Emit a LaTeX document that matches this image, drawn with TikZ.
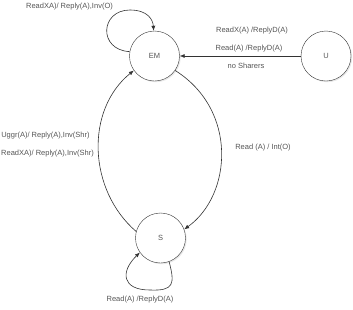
\documentclass[tikz,border=0pt]{standalone}
\usepackage{fontspec}
\setmainfont{Liberation Sans}
\usetikzlibrary{arrows.meta,shadows}
\definecolor{StLine}{HTML}{333333}
\definecolor{StText}{HTML}{555555}

\begin{document}
\begin{tikzpicture}[x=1pt,y=-1pt,
    every node/.style={font=\fontsize{7.5}{9}\selectfont,text=StText,align=center,inner sep=0pt},
    stnode/.style={draw=StLine,circle,fill=white,minimum size=50pt,drop shadow={opacity=0.18,shadow xshift=1.2pt,shadow yshift=-1.2pt}},
    trans/.style={draw=StLine,line width=0.6pt,-{Latex[length=5pt,width=4pt]}}]
    \useasboundingbox (0,0) rectangle (353,309);
    % states
    \node[stnode] (em) at (154.5,56) {EM};
    \node[stnode] (u) at (326,56) {U};
    \node[stnode] (s) at (160.5,238) {S};
    % transitions
    \draw[trans] (em.170) .. controls (98,50) and (100,10) .. (130,10) .. controls (148,10) and (153,20) .. (em.92);
    \draw[trans] (u.west) -- (em.east);
    \draw[trans] (em.-35) .. controls (238,110) and (232,195) .. (s.20);
    \draw[trans] (s.165) .. controls (88,190) and (85,110) .. (em.215);
    \draw[trans] (s.-70) .. controls (175,284) and (174,291) .. (150,290) .. controls (122,290) and (120,272) .. (s.215);
    % labels
    \node (lEMloop) at (69.5,6.5) {ReadXA)/ Reply(A),Inv(O)};
    \node (lUEMa) at (252,31) {ReadX(A) /ReplyD(A)};
    \node (lUEMb) at (249,49) {Read(A) /ReplyD(A)};
    \node (lUEMc) at (246,66) {no Sharers};
    \node (lEMS) at (263,147.5) {Read (A) / Int(O)};
    \node (lSEMa) at (45.5,136) {Uggr(A)/ Reply(A),Inv(Shr)};
    \node (lSEMb) at (47.5,153.5) {ReadXA)/ Reply(A),Inv(Shr)};
    \node (lSloop) at (140,300) {Read(A) /ReplyD(A)};
\end{tikzpicture}
\end{document}
